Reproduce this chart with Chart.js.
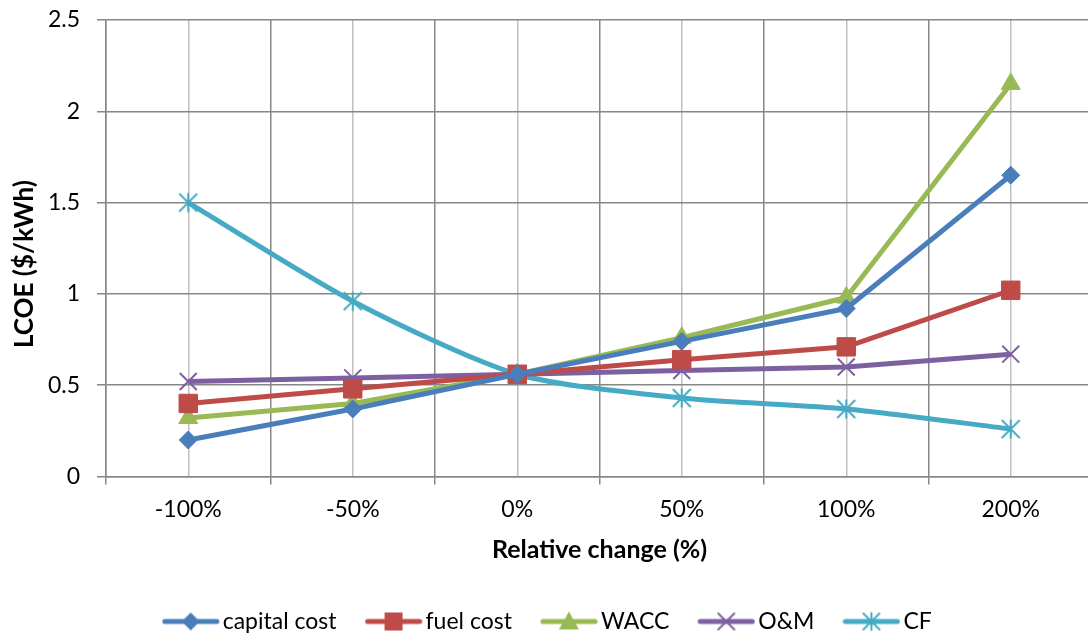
<!DOCTYPE html>
<html>
<head>
<meta charset="utf-8">
<script src="https://cdn.jsdelivr.net/npm/chart.js@4/dist/chart.umd.min.js"></script>
<style>
  html, body { margin: 0; padding: 0; background: #fff; overflow: hidden; }
  #wrap { position: absolute; left: 0; top: 0; width: 1096px; height: 643px; }
  #chart { width: 1096px; height: 643px; display: block; }
</style>
</head>
<body>
<div id="wrap"><canvas id="chart" width="1096" height="643"></canvas></div>
<script>
// values
const categories = ['-100%', '-50%', '0%', '50%', '100%', '200%'];
const capitalCost = [0.20, 0.37, 0.56, 0.74, 0.92, 1.65];
const fuelCost = [0.40, 0.48, 0.56, 0.64, 0.71, 1.02];
const wacc = [0.32, 0.40, 0.56, 0.76, 0.98, 2.15];
const oAndM = [0.52, 0.54, 0.56, 0.58, 0.60, 0.67];
const cf = [1.50, 0.96, 0.56, 0.43, 0.37, 0.26];
const yTicks = [0, 0.5, 1, 1.5, 2, 2.5];

const gridDark = '#878787';
const gridLight = '#c0c0c0';

// draws one excel-style marker on a 2d context
const drawMark = (ctx, kind, cx, cy, r, color) => {
    ctx.fillStyle = color;
    ctx.strokeStyle = color;
    ctx.lineWidth = 2;
    ctx.beginPath();
    if (kind === 'diamond') {
        ctx.moveTo(cx, cy - r); ctx.lineTo(cx + r, cy); ctx.lineTo(cx, cy + r); ctx.lineTo(cx - r, cy);
        ctx.closePath(); ctx.fill();
    } else if (kind === 'square') {
        ctx.rect(cx - r, cy - r, 2 * r, 2 * r); ctx.fill();
    } else if (kind === 'triangle') {
        ctx.moveTo(cx, cy - r); ctx.lineTo(cx + r, cy + r * 0.8); ctx.lineTo(cx - r, cy + r * 0.8);
        ctx.closePath(); ctx.fill();
    } else if (kind === 'x') {
        ctx.moveTo(cx - r, cy - r); ctx.lineTo(cx + r, cy + r);
        ctx.moveTo(cx + r, cy - r); ctx.lineTo(cx - r, cy + r);
        ctx.stroke();
    } else if (kind === 'star') {
        ctx.moveTo(cx - r, cy - r); ctx.lineTo(cx + r, cy + r);
        ctx.moveTo(cx + r, cy - r); ctx.lineTo(cx - r, cy + r);
        ctx.moveTo(cx, cy - r * 1.05); ctx.lineTo(cx, cy + r * 1.05);
        ctx.stroke();
    }
};

const markCanvas = (kind, color, r) => {
    const c = document.createElement('canvas');
    c.width = Math.ceil(r * 2 + 4);
    c.height = Math.ceil(r * 2 + 4);
    drawMark(c.getContext('2d'), kind, c.width / 2, c.height / 2, r, color);
    return c;
};

// legend icon: line segment with the marker in the middle
const legendIcon = (kind, color, r) => {
    const c = document.createElement('canvas');
    c.width = 58;
    c.height = 24;
    const ctx = c.getContext('2d');
    ctx.strokeStyle = color;
    ctx.lineWidth = 5;
    ctx.lineCap = 'round';
    ctx.beginPath();
    ctx.moveTo(3, 12);
    ctx.lineTo(55, 12);
    ctx.stroke();
    drawMark(ctx, kind, 29, 12, r, color);
    return c;
};

const series = [
    { label: 'capital cost', data: capitalCost, color: '#4a7ebb', kind: 'diamond', style: 'rectRot', radius: 9, legendR: 9 },
    { label: 'fuel cost', data: fuelCost, color: '#be4b48', kind: 'square', style: 'rect', radius: 13, legendR: 9 },
    { label: 'WACC', data: wacc, color: '#98b954', kind: 'triangle', style: 'triangle', radius: 11, legendR: 10 },
    { label: 'O&M', data: oAndM, color: '#7d60a0', kind: 'x', style: 'crossRot', radius: 12, legendR: 8 },
    { label: 'CF', data: cf, color: '#46aac5', kind: 'star', style: null, radius: 9, legendR: 8 }
];

const legendIcons = series.map(s => legendIcon(s.kind, s.color, s.legendR));

const datasets = series.map(s => ({
    label: s.label,
    data: s.data,
    borderColor: s.color,
    backgroundColor: s.color,
    borderWidth: 5,
    pointStyle: s.style || markCanvas(s.kind, s.color, s.radius),
    pointRadius: s.radius,
    pointBorderWidth: s.kind === 'x' ? 2 : 1,
    pointBackgroundColor: s.color,
    pointBorderColor: s.color,
    tension: s.kind === 'star' ? 0.25 : 0,
    borderJoinStyle: 'round',
    clip: false
}));

Chart.defaults.font.family = 'Lato, "Open Sans", sans-serif';
Chart.defaults.color = '#000';

new Chart(document.getElementById('chart'), {
    type: 'line',
    data: { labels: categories, datasets: datasets },
    options: {
        responsive: false,
        animation: false,
        devicePixelRatio: 1,
        layout: { autoPadding: false, padding: { top: 20, left: 9, right: 3, bottom: 0 } },
        plugins: {
            tooltip: { enabled: false },
            legend: {
                position: 'bottom',
                labels: {
                    usePointStyle: true,
                    pointStyleWidth: 41,
                    padding: 36.5,
                    font: { size: 23 },
                    color: '#000',
                    generateLabels: chart => chart.data.datasets.map((ds, i) => ({
                        text: ds.label,
                        pointStyle: legendIcons[i],
                        datasetIndex: i,
                        hidden: false,
                        lineWidth: 0,
                        fontColor: '#000'
                    }))
                }
            }
        },
        scales: {
            x: {
                type: 'category',
                offset: true,
                grid: { offset: true, color: gridDark, lineWidth: 1.5, tickLength: 8, tickColor: gridDark },
                border: { color: gridDark, width: 1.5 },
                ticks: { font: { size: 23 }, padding: 11, maxRotation: 0 },
                title: {
                    display: true,
                    text: 'Relative change (%)',
                    font: { size: 25, weight: 'bold' },
                    padding: { top: 0, bottom: 9 }
                },
                afterFit: scale => { scale.height = 97; scale.paddingLeft = 0; scale.paddingRight = 0; }
            },
            xc: {
                type: 'category',
                position: 'bottom',
                offset: true,
                grid: { offset: false, color: gridLight, lineWidth: 1.5, drawTicks: false },
                border: { display: false },
                ticks: { display: false },
                afterFit: scale => { scale.height = 0; scale.paddingLeft = 0; scale.paddingRight = 0; }
            },
            y: {
                min: 0,
                max: 2.5,
                afterBuildTicks: scale => { scale.ticks = yTicks.map(v => ({ value: v })); },
                grid: { color: gridDark, lineWidth: 1.5, tickLength: 9, tickColor: gridDark },
                border: { color: gridDark, width: 1.5 },
                ticks: { font: { size: 23 }, padding: 17, callback: v => String(v) },
                title: {
                    display: true,
                    text: 'LCOE ($/kWh)     ',
                    font: { size: 26, weight: 'bold' },
                    padding: 0
                },
                afterFit: scale => { scale.width = 97; scale.paddingTop = 0; scale.paddingBottom = 0; }
            }
        }
    }
});
</script>
</body>
</html>
